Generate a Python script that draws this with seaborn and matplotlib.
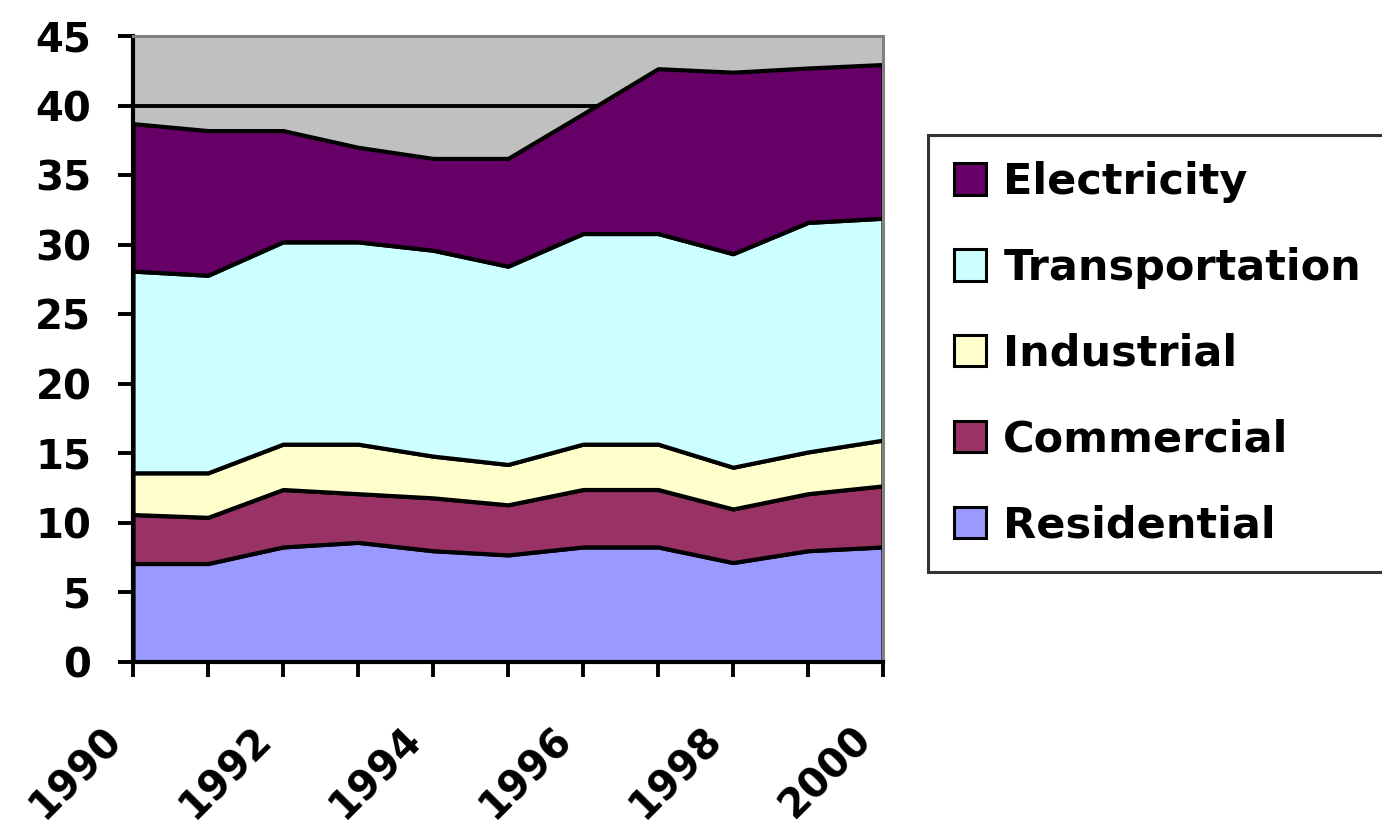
import numpy as np
import pandas as pd
import seaborn as sns
import matplotlib.pyplot as plt
from matplotlib.patches import Patch
from matplotlib.transforms import ScaledTranslation

# energy use by sector, stacked
years = [1990, 1991, 1992, 1993, 1994, 1995, 1996, 1997, 1998, 1999, 2000]
residential = [7.08, 7.08, 8.27, 8.6, 8.0, 7.7, 8.27, 8.27, 7.15, 8.0, 8.27]
commercial = [3.52, 3.32, 4.13, 3.5, 3.8, 3.6, 4.13, 4.13, 3.85, 4.1, 4.39]
industrial = [3.0, 3.2, 3.26, 3.56, 3.0, 2.9, 3.26, 3.26, 3.0, 3.0, 3.29]
transportation = [14.5, 14.2, 14.54, 14.54, 14.8, 14.25, 15.14, 15.14, 15.35, 16.5, 15.95]
electricity = [10.6, 10.4, 8.0, 6.8, 6.6, 7.75, 8.6, 11.85, 13.05, 11.1, 11.05]
sectors = ['Residential', 'Commercial', 'Industrial', 'Transportation', 'Electricity']
x_labels = ['1990', '', '1992', '', '1994', '', '1996', '', '1998', '', '2000']
y_ticks = [0, 5, 10, 15, 20, 25, 30, 35, 40, 45]

df = pd.DataFrame({'year': years, 'Residential': residential, 'Commercial': commercial,
                   'Industrial': industrial, 'Transportation': transportation,
                   'Electricity': electricity})

sns.set_theme(style="white")
plt.rcParams['font.family'] = ['DejaVu Sans']
plt.rcParams['font.weight'] = 'bold'
plt.rcParams['text.color'] = 'black'
plt.rcParams['xtick.color'] = 'black'
plt.rcParams['ytick.color'] = 'black'

colors = sns.color_palette(['#9999FF', '#993366', '#FFFFCC', '#CCFFFF', '#660066'])

fig = plt.figure(figsize=(13.82, 8.3), dpi=100)
ax = fig.add_axes([133/1382, 168/830, 750/1382, 626/830])
ax.set_facecolor('#C0C0C0')

ax.stackplot(df['year'], [df[s] for s in sectors], colors=colors,
             edgecolor='black', linewidth=3, zorder=2)

ax.set_xlim(1990, 2000)
ax.set_ylim(0, 45)
ax.set_yticks(y_ticks)
ax.set_xticks(years)
ax.set_xticklabels(x_labels, rotation=45, ha='right', va='top', fontsize=29,
                   fontweight='bold', color='black')
ax.set_yticklabels([str(v) for v in y_ticks], fontsize=29, fontweight='bold', color='black')

ax.set_axisbelow(True)
ax.yaxis.grid(True, color='black', linewidth=2.8)
ax.xaxis.grid(False)
ax.yaxis.get_gridlines()[-1].set_visible(False)

ax.tick_params(axis='both', direction='out', length=11, width=2.8, color='black')
ax.tick_params(axis='y', pad=19, left=True)
ax.tick_params(axis='x', pad=30, bottom=True)

for lbl in ax.get_xticklabels():
    lbl.set_transform(lbl.get_transform() + ScaledTranslation(-0.03, 0, fig.dpi_scale_trans))

for side in ['left', 'bottom']:
    ax.spines[side].set_color('black')
    ax.spines[side].set_linewidth(3)
for side in ['top', 'right']:
    ax.spines[side].set_color('#808080')
    ax.spines[side].set_linewidth(2.2)

handles = [Patch(facecolor=colors[i], edgecolor='black', linewidth=2.2, label=sectors[i])
           for i in range(len(sectors) - 1, -1, -1)]
leg = fig.legend(handles=handles, loc='upper left', bbox_to_anchor=(928/1382, 695/830),
                 prop={'size': 31, 'weight': 'bold'}, frameon=True, fancybox=False,
                 edgecolor='black', borderpad=0.6, labelspacing=1.02,
                 handlelength=0.75, handleheight=0.75, handletextpad=0.4,
                 borderaxespad=0)
leg.get_frame().set_linewidth(2.2)
for t in leg.get_texts():
    t.set_color('black')

plt.savefig('out.png', dpi=100)
